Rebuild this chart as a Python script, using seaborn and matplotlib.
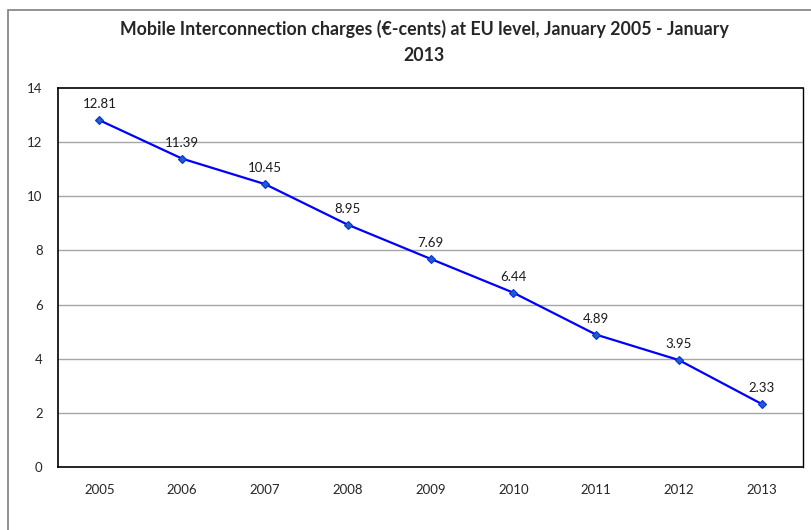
import matplotlib
matplotlib.use("Agg")
import matplotlib.pyplot as plt
import matplotlib.patches as mpatches
from matplotlib.ticker import FixedLocator, NullFormatter
import seaborn as sns
import pandas as pd

years = ["2005", "2006", "2007", "2008", "2009", "2010", "2011", "2012", "2013"]
charges = [12.81, 11.39, 10.45, 8.95, 7.69, 6.44, 4.89, 3.95, 2.33]
y_ticks = [0, 2, 4, 6, 8, 10, 12, 14]
title = "Mobile Interconnection charges (\u20ac-cents) at EU level, January 2005 - January\n2013"

sns.set_style("white")
plt.rcParams["font.family"] = ["Lato", "DejaVu Sans"]

df = pd.DataFrame({"pos": range(len(years)), "year": years, "charge": charges})

fig = plt.figure(figsize=(8.11, 5.30), dpi=100)
ax = fig.add_axes([58 / 811, 1 - 467 / 530, (803 - 58) / 811, (467 - 88) / 530])

# outer chart frame
fig.patches.append(mpatches.Rectangle((8 / 811, -0.05), 1.2, 1 - 10 / 530 + 0.05,
                                      transform=fig.transFigure, fill=False,
                                      edgecolor="#7f7f7f", linewidth=1.2, zorder=0))

for t in y_ticks[1:-1]:
    ax.axhline(t, color="#a6a6a6", linewidth=1.0, zorder=0)

sns.lineplot(data=df, x="pos", y="charge", ax=ax, color="#0000ff", linewidth=1.6,
             marker="D", markersize=4.5, markerfacecolor="#1a5fd0",
             markeredgecolor="#0a2ed8", markeredgewidth=0.8, zorder=3)

for p, v in zip(df["pos"], df["charge"]):
    ax.annotate(f"{v:.2f}", (p, v), xytext=(0, 7), textcoords="offset points",
                ha="center", va="bottom", fontsize=9.5, color="#1a1a1a")

ax.set_xlim(-0.5, len(years) - 0.5)
ax.set_ylim(0, 14)
ax.set_yticks(y_ticks)
ax.set_yticklabels([str(t) for t in y_ticks], fontsize=9.5)
ax.set_xticks(list(range(len(years))))
ax.set_xticklabels(years, fontsize=9.5)
ax.xaxis.set_minor_locator(FixedLocator([i - 0.5 for i in range(len(years) + 1)]))
ax.xaxis.set_minor_formatter(NullFormatter())
ax.tick_params(axis="x", which="major", length=0, pad=12)
ax.tick_params(axis="x", which="minor", length=5, width=1, color="black", direction="out")
ax.tick_params(axis="y", length=5, width=1, color="black", direction="out", pad=6)
ax.set_xlabel("")
ax.set_ylabel("")
for s in ax.spines.values():
    s.set_color("black")
    s.set_linewidth(1.2)
ax.spines["right"].set_linewidth(1.0)

fig.text(424 / 811, 1 - 42 / 530, title, ha="center", va="center",
         fontsize=12.8, fontweight="bold", linespacing=1.6)

fig.savefig("out.png", dpi=100)
